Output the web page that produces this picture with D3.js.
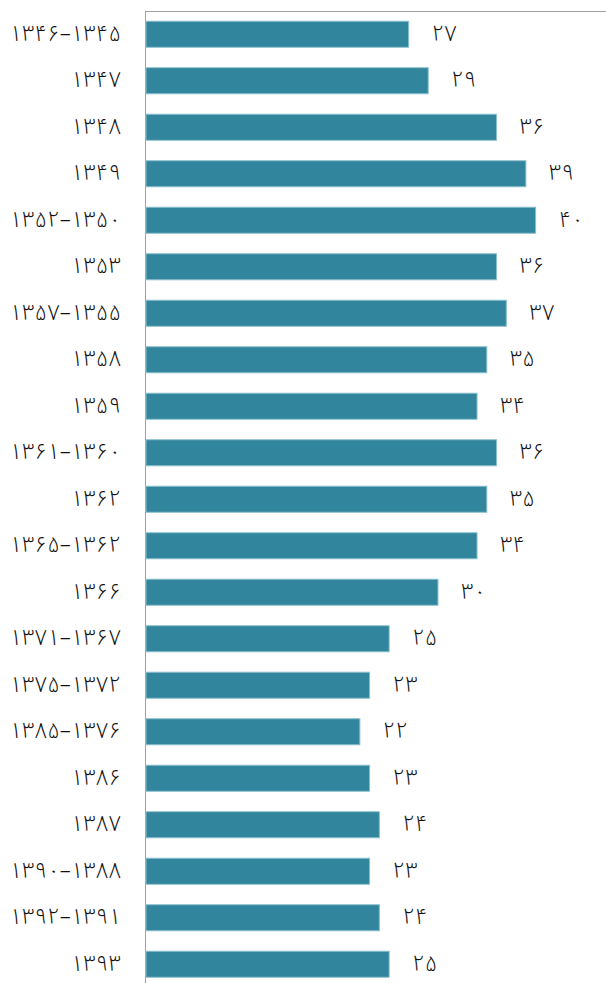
<!DOCTYPE html>
<html lang="fa">
<head>
<meta charset="utf-8">
<title>Bar chart</title>
<script src="https://d3js.org/d3.v7.min.js"></script>
<style>
  body { margin: 0; background: #fff; }
  text { font-family: "Noto Sans Arabic", "DejaVu Sans", sans-serif; }
</style>
</head>
<body>
<div id="canvas"></div>
<script>
// categories (top to bottom) and values
const periods = [
  "۱۳۴۶–۱۳۴۵", "۱۳۴۷", "۱۳۴۸", "۱۳۴۹", "۱۳۵۲–۱۳۵۰", "۱۳۵۳", "۱۳۵۷–۱۳۵۵",
  "۱۳۵۸", "۱۳۵۹", "۱۳۶۱–۱۳۶۰", "۱۳۶۲", "۱۳۶۵–۱۳۶۲", "۱۳۶۶", "۱۳۷۱–۱۳۶۷",
  "۱۳۷۵–۱۳۷۲", "۱۳۸۵–۱۳۷۶", "۱۳۸۶", "۱۳۸۷", "۱۳۹۰–۱۳۸۸", "۱۳۹۲–۱۳۹۱", "۱۳۹۳"
];
const values = [27, 29, 36, 39, 40, 36, 37, 35, 34, 36, 35, 34, 30, 25, 23, 22, 23, 24, 23, 24, 25];

const toFa = n => String(n).replace(/\d/g, d => "۰۱۲۳۴۵۶۷۸۹"[d]);

const W = 606, H = 983;
const marginLeft = 145, marginTop = 11;

const svg = d3.select("#canvas").append("svg")
    .attr("width", W)
    .attr("height", H);

const x = d3.scaleLinear().domain([0, 47]).range([marginLeft, 604]);
const y = d3.scaleBand()
    .domain(d3.range(periods.length))
    .range([marginTop, marginTop + periods.length * 46.5])
    .paddingInner(0.44)
    .paddingOuter(0.22);

// frame lines
svg.append("line")
    .attr("x1", marginLeft).attr("x2", W)
    .attr("y1", marginTop + 0.5).attr("y2", marginTop + 0.5)
    .attr("stroke", "#a0a0a0");
svg.append("line")
    .attr("x1", marginLeft + 0.5).attr("x2", marginLeft + 0.5)
    .attr("y1", marginTop).attr("y2", H)
    .attr("stroke", "#a0a0a0");

svg.selectAll("rect.bar")
  .data(values)
  .join("rect")
    .attr("class", "bar")
    .attr("x", marginLeft + 1)
    .attr("y", (d, i) => y(i))
    .attr("width", d => x(d) - marginLeft - 1)
    .attr("height", y.bandwidth())
    .attr("fill", "#31859c")
    .attr("stroke", "#8cc0cf")
    .attr("stroke-width", 1);

svg.selectAll("text.val")
  .data(values)
  .join("text")
    .attr("class", "val")
    .attr("x", d => x(d) + 23)
    .attr("y", (d, i) => y(i) + y.bandwidth() / 2)
    .attr("dy", "0.3em")
    .attr("font-size", 22)
    .attr("font-weight", 300)
    .attr("fill", "#111")
    .text(d => toFa(d));

svg.selectAll("text.cat")
  .data(periods)
  .join("text")
    .attr("class", "cat")
    .attr("x", 121)
    .attr("y", (d, i) => y(i) + y.bandwidth() / 2)
    .attr("dy", "0.3em")
    .attr("text-anchor", "end")
    .attr("direction", "ltr")
    .attr("font-size", 22)
    .attr("font-weight", 300)
    .attr("fill", "#111")
    .text(d => d);
</script>
</body>
</html>
